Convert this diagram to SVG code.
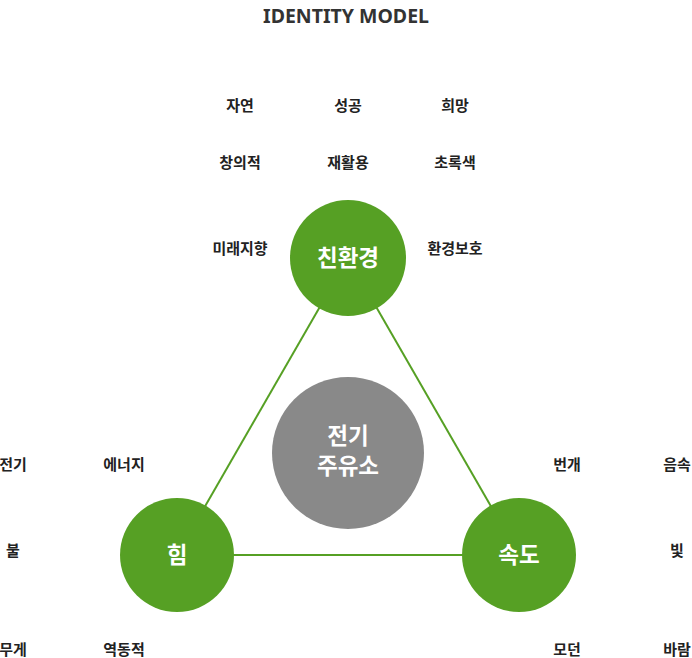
<svg xmlns="http://www.w3.org/2000/svg" width="692" height="658" viewBox="0 0 692 658">
<style>
.t{font-family:"Noto Sans CJK KR","Noto Sans",sans-serif;font-weight:bold;font-size:15px;fill:#222;text-anchor:middle}
.c{fill:#56a024}
.ct{font-family:"Noto Sans CJK KR","Noto Sans",sans-serif;font-weight:bold;font-size:22.5px;fill:#fff;text-anchor:middle}
.ln{stroke:#56a024;stroke-width:2;fill:none}
</style>
<rect width="692" height="658" fill="#fff"/>
<text x="346" y="23" font-family="'Noto Sans','Noto Sans CJK KR',sans-serif" font-weight="bold" font-size="19.5" fill="#333" text-anchor="middle">IDENTITY MODEL</text>
<g id="connectors">
<line class="ln" x1="348" y1="258" x2="177" y2="555"/>
<line class="ln" x1="348" y1="258" x2="519" y2="555"/>
<line class="ln" x1="177" y1="555" x2="519" y2="555"/>
</g>
<g id="node-center">
<circle cx="348" cy="453" r="76" fill="#898989"/>
<text class="ct" x="348" y="444">전기</text>
<text class="ct" x="348" y="474">주유소</text>
</g>
<g id="node-top">
<circle class="c" cx="348" cy="258" r="58"/>
<text class="ct" x="348" y="266">친환경</text>
</g>
<g id="node-left">
<circle class="c" cx="177" cy="555" r="57"/>
<text class="ct" x="177" y="563">힘</text>
</g>
<g id="node-right">
<circle class="c" cx="519" cy="555" r="57"/>
<text class="ct" x="519" y="563">속도</text>
</g>
<g id="labels">
<text class="t" x="240" y="111">자연</text>
<text class="t" x="348" y="111">성공</text>
<text class="t" x="455" y="111">희망</text>
<text class="t" x="240" y="168">창의적</text>
<text class="t" x="348" y="168">재활용</text>
<text class="t" x="455" y="168">초록색</text>
<text class="t" x="240" y="254">미래지향</text>
<text class="t" x="455" y="254">환경보호</text>
<text class="t" x="13" y="470">전기</text>
<text class="t" x="124" y="470">에너지</text>
<text class="t" x="13" y="556">불</text>
<text class="t" x="13" y="655">무게</text>
<text class="t" x="124" y="655">역동적</text>
<text class="t" x="567" y="470">번개</text>
<text class="t" x="677" y="470">음속</text>
<text class="t" x="677" y="556">빛</text>
<text class="t" x="567" y="655">모던</text>
<text class="t" x="677" y="655">바람</text>
</g>
</svg>
